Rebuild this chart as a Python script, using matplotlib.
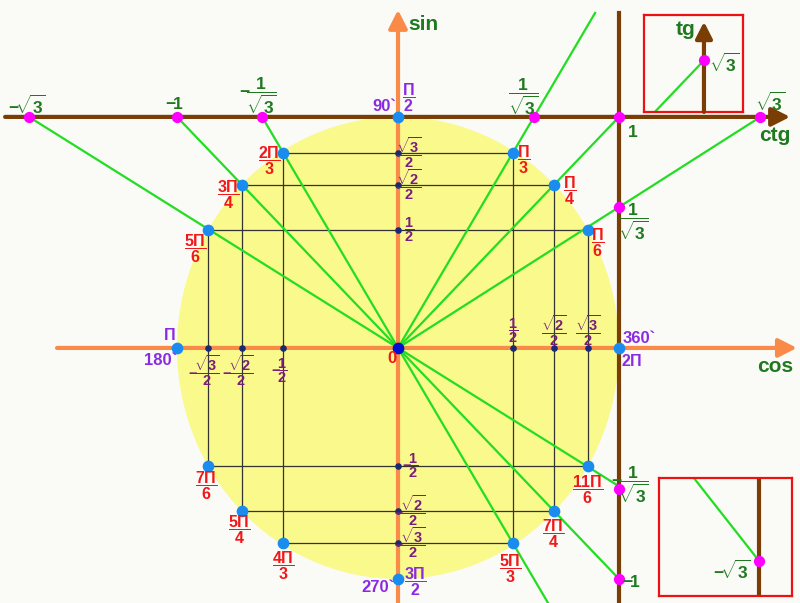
import numpy as np
import matplotlib.pyplot as plt
from matplotlib.patches import Circle

plt.rcParams['font.family'] = ['Liberation Sans', 'DejaVu Sans']
plt.rcParams['font.weight'] = 'bold'
plt.rcParams['mathtext.fontset'] = 'custom'
plt.rcParams['mathtext.rm'] = 'Liberation Sans:bold'
plt.rcParams['mathtext.it'] = 'Liberation Sans:bold'
plt.rcParams['mathtext.bf'] = 'Liberation Sans:bold'

# points on the unit circle (cos, sin) as drawn, and their angle labels
pt_cos = [0.86, 0.705, 0.52, -0.52, -0.705, -0.86, -0.86, -0.705, -0.52, 0.52, 0.705, 0.86]
pt_sin = [0.51, 0.705, 0.845, 0.845, 0.705, 0.51, -0.51, -0.705, -0.845, -0.845, -0.705, -0.51]
angle_num = [r'\Pi', r'\Pi', r'\Pi', r'2\Pi', r'3\Pi', r'5\Pi', r'7\Pi', r'5\Pi', r'4\Pi', r'5\Pi', r'7\Pi', r'11\Pi']
angle_den = ['6', '4', '3', '3', '4', '6', '6', '4', '3', '3', '4', '6']

# points on the axes: 90, 180, 270, 360 degrees
quad_cos = [0, -1, 0, 1]
quad_sin = [1, 0, -1, 0]
quad_deg = ['90`', '180`', '270`', '360`']
quad_rad = [r'$\dfrac{\Pi}{2}$', r'$\Pi$', r'$\dfrac{3\Pi}{2}$', r'$2\Pi$']

# projections of the first quarter points
proj_cos = [0.52, 0.705, 0.86]
proj_sin = [0.51, 0.705, 0.845]
proj_cos_txt = [r'\dfrac{1}{2}', r'\dfrac{\sqrt{2}}{2}', r'\dfrac{\sqrt{3}}{2}']
proj_sin_txt = [r'\dfrac{1}{2}', r'\dfrac{\sqrt{2}}{2}', r'\dfrac{\sqrt{3}}{2}']

# cotangent axis (y = 1) and tangent axis (x = 1), positions as drawn
ctg_vals = [-1.67, -1, -0.615, 0.615, 1, 1.64]
ctg_labels = [r'$-\!\sqrt{3}$', r'$-\!1$', r'$-\!\dfrac{1}{\sqrt{3}}$', r'$\dfrac{1}{\sqrt{3}}$', r'$1$', r'$\sqrt{3}$']
tg_vals = [0.61, -0.61, -1]
tg_labels = [r'$\dfrac{1}{\sqrt{3}}$', r'$-\!\dfrac{1}{\sqrt{3}}$', r'$-\!1$']
tg_big = [1.732, -1.732]
tg_big_labels = [r'$\sqrt{3}$', r'$-\!\sqrt{3}$']

# green lines through the centre: direction (ctg, 1), from t_start to t_end
line_dir = [-1.67, -1, -0.615, 1.64, 1, 0.615]
t_start = [1, 1, 1, 0, 0, 0]
t_end = [-0.6, -1, -1.104, 1, 1, 1.45]

bg = '#FAFAF7'
yellow = '#F9F98C'
green = '#22DD22'
dkgreen = '#1F7A1F'
brown = '#7A3E05'
orange = '#FA8A48'
blue = '#1A8CF0'
red = '#F01818'
purple = '#8A2BE2'
dpurple = '#7A1E7A'

fig = plt.figure(figsize=(8, 6.03), dpi=100)
fig.patch.set_facecolor(bg)
ax = fig.add_axes([0, 0, 1, 1])
ax.set_xlim(-1.801, 1.819)
ax.set_ylim(-1.104, 1.506)
ax.axis('off')

ax.add_patch(Circle((0, 0), 1, fc=yellow, ec='none', zorder=1))

# projection grid
for c, s in zip(pt_cos[:3], pt_sin[:3]):
    ax.vlines([c, -c], -s, s, color='#333333', lw=0.9, zorder=2)
    ax.hlines([s, -s], -c, c, color='#333333', lw=0.9, zorder=2)

for d, t0, t1 in zip(line_dir, t_start, t_end):
    ax.plot([d * t0, d * t1], [t0, t1], color=green, lw=1.6, zorder=3)

arrow = '-|>,head_length=0.55,head_width=0.28'
ax.annotate('', xy=(1.805, 0), xytext=(-1.543, 0), zorder=4,
            arrowprops=dict(arrowstyle=arrow, color=orange, lw=3, mutation_scale=20, shrinkA=0, shrinkB=0))
ax.annotate('', xy=(0, 1.463), xytext=(0, -1.104), zorder=4,
            arrowprops=dict(arrowstyle=arrow, color=orange, lw=3, mutation_scale=20, shrinkA=0, shrinkB=0))
ax.annotate('', xy=(1.774, 1), xytext=(-1.778, 1), zorder=4,
            arrowprops=dict(arrowstyle=arrow, color=brown, lw=3, mutation_scale=20, shrinkA=0, shrinkB=0))
ax.plot([1, 1], [-1.104, 1.45], color=brown, lw=3, zorder=4)

# small dots of the projections
ax.scatter(proj_cos + [-v for v in proj_cos], [0] * 6, s=14, c='#1A2A70', zorder=5)
ax.scatter([0] * 6, proj_sin + [-v for v in proj_sin], s=14, c='#1A2A70', zorder=5)

ax.scatter(pt_cos, pt_sin, s=55, c=blue, zorder=6)
ax.scatter(quad_cos, quad_sin, s=55, c=blue, zorder=6)
ax.scatter([0], [0], s=55, c='#0010D0', zorder=6)
ax.scatter(ctg_vals, [1] * len(ctg_vals), s=50, c='#FF00FF', zorder=6)
ax.scatter([1] * len(tg_vals), tg_vals, s=50, c='#FF00FF', zorder=6)


def lab(a, xy, txt, off, color, size=11.5):
    a.annotate(txt, xy=xy, xytext=off, textcoords='offset pixels', ha='center', va='center',
               color=color, fontsize=size, fontweight='bold', zorder=7)


# angle labels
angle_off = [(10, -12), (16, -5), (11, -7), (-14, -8), (-14, -9), (-13, -18),
             (-2, -20), (-3, -19), (0, -22), (-3, -25), (-1, -23), (0, -24)]
for c, s, n, d, o in zip(pt_cos, pt_sin, angle_num, angle_den, angle_off):
    lab(ax, (c, s), r'$\dfrac{%s}{%s}$' % (n, d), o, red)

deg_off = [(-14, 10), (-16, -13), (-20, -9), (20, 9)]
rad_off = [(11, 19), (-8, 13), (17, -3), (13, -13)]
for c, s, dg, rd, o1, o2 in zip(quad_cos, quad_sin, quad_deg, quad_rad, deg_off, rad_off):
    lab(ax, (c, s), dg, o1, purple, 12)
    lab(ax, (c, s), rd, o2, purple, 11.5)
lab(ax, (0, 0), '0', (-6, -11), red, 12)

# values on the sin and cos axes
for vc, vs, tc, ts in zip(proj_cos, proj_sin, proj_cos_txt, proj_sin_txt):
    lab(ax, (0, vs), '$' + ts + '$', (11, 0), dpurple, 10.5)
    lab(ax, (0, -vs), r'$-\!' + ts + '$', (12, 0), dpurple, 10.5)
    lab(ax, (vc, 0), '$' + tc + '$', (0, 17), dpurple, 10.5)
    lab(ax, (-vc, 0), r'$-\!' + tc + '$', (-4, -23), dpurple, 10.5)

ctg_off = [(-2, 12), (-3, 13), (-4, 21), (-11, 20), (14, -15), (10, 15)]
for v, t, o in zip(ctg_vals, ctg_labels, ctg_off):
    lab(ax, (v, 1), t, o, dkgreen, 12.5)
tg_off = [(14, -15), (11, 4), (12, -3)]
for v, t, o in zip(tg_vals, tg_labels, tg_off):
    lab(ax, (1, v), t, o, dkgreen, 12.5)

lab(ax, (0, 1.463), 'sin', (25, -15), dkgreen, 15)
lab(ax, (1.805, 0), 'cos', (-22, -19), dkgreen, 15)
lab(ax, (1.774, 1), 'ctg', (-15, -19), dkgreen, 15)

# insets for tg = sqrt(3) and tg = -sqrt(3)
ins1 = fig.add_axes([644 / 800, 1 - 112 / 603, 99 / 800, 97 / 603])
ins1.set_xlim(0.625, 1.244)
ins1.set_ylim(1.2, 2.2)
ins2 = fig.add_axes([659 / 800, 1 - 596 / 603, 133 / 800, 118 / 603])
ins2.set_xlim(0.528, 1.155)
ins2.set_ylim(-1.956, -1.2)
for a in (ins1, ins2):
    a.set_facecolor(bg)
    a.set_xticks([])
    a.set_yticks([])
    for sp in a.spines.values():
        sp.set_color('#EE1111')
        sp.set_linewidth(1.6)

ins1.annotate('', xy=(1, 2.13), xytext=(1, 1.2),
              arrowprops=dict(arrowstyle=arrow, color=brown, lw=3, mutation_scale=18, shrinkA=0, shrinkB=0))
ins2.plot([1, 1], [-1.956, -1.2], color=brown, lw=3)
for a, v, t, o in zip((ins1, ins2), tg_big, tg_big_labels, [(20, -3), (-27, -9)]):
    t0 = abs(a.get_ylim()[0] if v > 0 else a.get_ylim()[1])
    a.plot([0.577 * t0, 1], [np.sign(v) * t0, v], color=green, lw=1.6)
    a.scatter([1], [v], s=50, c='#FF00FF', zorder=6)
    lab(a, (1, v), t, o, dkgreen, 12.5)
lab(ins1, (1, 2.13), 'tg', (-18, -8), dkgreen, 15)

fig.savefig('out.png', dpi=100, facecolor=bg)
